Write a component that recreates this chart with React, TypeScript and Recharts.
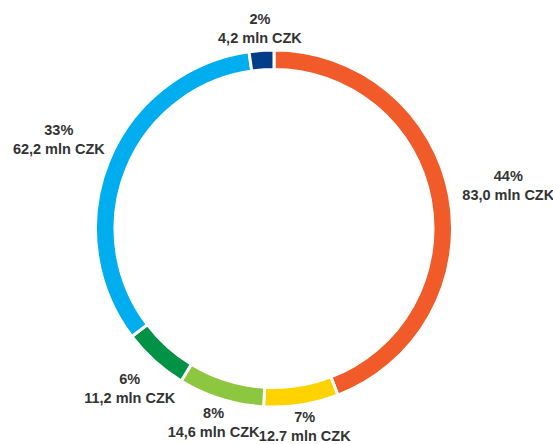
import { PieChart, Pie, Cell } from "recharts";

const segments = ["orange", "yellow", "lightGreen", "darkGreen", "lightBlue", "darkBlue"];
const amounts = [83.0, 12.7, 14.6, 11.2, 62.2, 4.2];
const percentLabels = ["44%", "7%", "8%", "6%", "33%", "2%"];
const amountLabels = [
  "83,0 mln CZK",
  "12.7 mln CZK",
  "14,6 mln CZK",
  "11,2 mln CZK",
  "62,2 mln CZK",
  "4,2 mln CZK",
];
const colors = ["#F15A29", "#FFD200", "#8DC63F", "#009245", "#00AEEF", "#003C88"];

const data = segments.map((name, i) => ({ name, value: amounts[i] }));

const RADIAN = Math.PI / 180;

// labels sit on an ellipse around the ring, along each slice's mid angle
const renderLabel = (props: any) => {
  const { cx, cy, midAngle, index } = props;
  const dx = Math.cos(midAngle * RADIAN);
  const dy = -Math.sin(midAngle * RADIAN);
  const rx = 240;
  const ry = 200;
  const r = 1 / Math.sqrt((dx / rx) ** 2 + (dy / ry) ** 2);
  const x = cx + dx * r;
  const y = cy + dy * r;
  return (
    <g>
      <text
        x={x}
        y={y - 9.5}
        textAnchor="middle"
        dominantBaseline="central"
        fill="#333"
        fontSize={14.5}
        fontWeight="bold"
        fontFamily="'Liberation Sans', Arial, sans-serif"
      >
        {percentLabels[index]}
      </text>
      <text
        x={x}
        y={y + 9.5}
        textAnchor="middle"
        dominantBaseline="central"
        fill="#333"
        fontSize={14.5}
        fontWeight="bold"
        fontFamily="'Liberation Sans', Arial, sans-serif"
      >
        {amountLabels[index]}
      </text>
    </g>
  );
};

export default function App() {
  return (
    <div style={{ position: "absolute", left: 0, top: 0, background: "#fff" }}>
      <PieChart width={553} height={444} margin={{ top: 0, right: 0, bottom: 0, left: 0 }}>
        <Pie
          data={data}
          dataKey="value"
          nameKey="name"
          cx={274}
          cy={228.5}
          innerRadius={159}
          outerRadius={178.5}
          startAngle={90}
          endAngle={-270}
          stroke="#fff"
          strokeWidth={3}
          label={renderLabel}
          labelLine={false}
          isAnimationActive={false}
        >
          {data.map((d, i) => (
            <Cell key={d.name} fill={colors[i]} />
          ))}
        </Pie>
      </PieChart>
    </div>
  );
}
